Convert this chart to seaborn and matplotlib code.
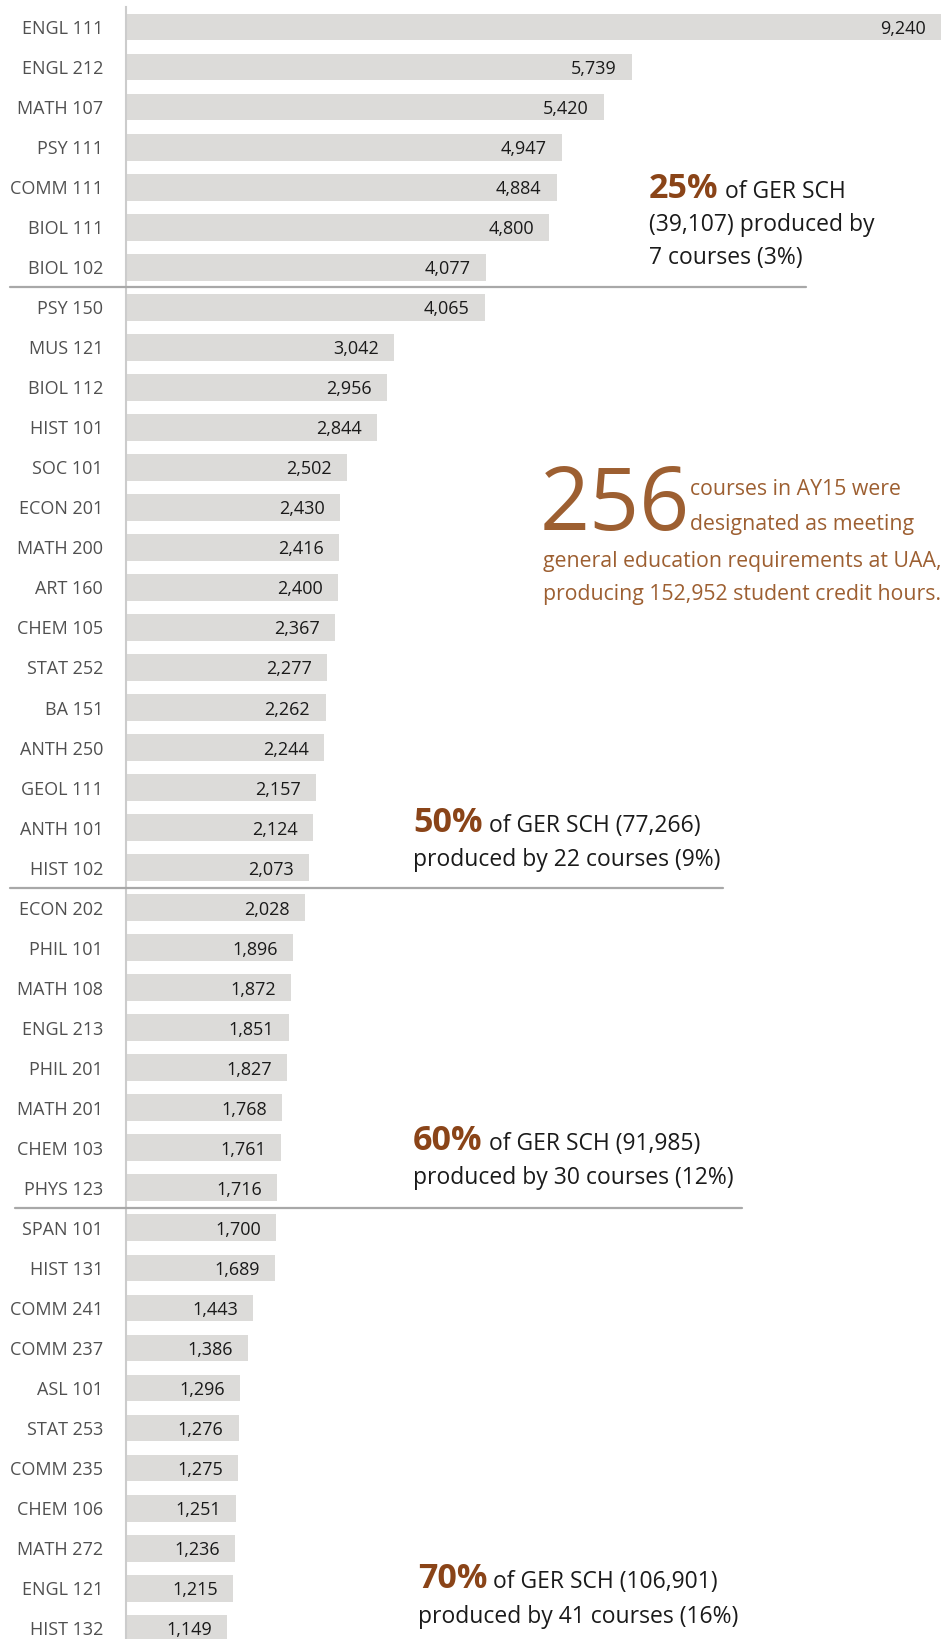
import matplotlib
matplotlib.use("Agg")
import matplotlib.pyplot as plt
import matplotlib.transforms as mtransforms
import seaborn as sns
import pandas as pd

courses = ["ENGL 111", "ENGL 212", "MATH 107", "PSY 111", "COMM 111", "BIOL 111", "BIOL 102",
           "PSY 150", "MUS 121", "BIOL 112", "HIST 101", "SOC 101", "ECON 201", "MATH 200",
           "ART 160", "CHEM 105", "STAT 252", "BA 151", "ANTH 250", "GEOL 111", "ANTH 101",
           "HIST 102", "ECON 202", "PHIL 101", "MATH 108", "ENGL 213", "PHIL 201", "MATH 201",
           "CHEM 103", "PHYS 123", "SPAN 101", "HIST 131", "COMM 241", "COMM 237", "ASL 101",
           "STAT 253", "COMM 235", "CHEM 106", "MATH 272", "ENGL 121", "HIST 132"]
sch = [9240, 5739, 5420, 4947, 4884, 4800, 4077,
       4065, 3042, 2956, 2844, 2502, 2430, 2416,
       2400, 2367, 2277, 2262, 2244, 2157, 2124,
       2073, 2028, 1896, 1872, 1851, 1827, 1768,
       1761, 1716, 1700, 1689, 1443, 1386, 1296,
       1276, 1275, 1251, 1236, 1215, 1149]

# cumulative-share milestones: (number of courses, bold pct, rest of line 1, further lines)
milestone_counts = [7, 22, 30, 41]
milestone_pct = ["25%", "50%", "60%", "70%"]
milestone_line1 = [" of GER SCH", " of GER SCH (77,266)", " of GER SCH (91,985)", " of GER SCH (106,901)"]
milestone_rest = [["(39,107) produced by", "7 courses (3%)"],
                  ["produced by 22 courses (9%)"],
                  ["produced by 30 courses (12%)"],
                  ["produced by 41 courses (16%)"]]

total_courses = "256"
summary_lines = ["courses in AY15 were", "designated as meeting",
                 "general education requirements at UAA,",
                 "producing 152,952 student credit hours."]

W, H = 947, 1639
sns.set_style("white")
plt.rcParams["font.family"] = ["Open Sans", "DejaVu Sans"]

BAR = "#dcdbd9"
BROWN = "#8a4418"
BROWN2 = "#9d5f31"
LABEL = "#505050"

fig = plt.figure(figsize=(W / 100, H / 100), dpi=100)
ax = fig.add_axes([126 / W, 0, (W - 126) / W, 1])

df = pd.DataFrame({"course": courses, "sch": sch})
sns.barplot(data=df, x="sch", y="course", color=BAR, saturation=1, width=0.67,
            linewidth=0, ax=ax)

pitch = 40.03
ax.set_xlim(0, 9308)
ax.set_ylim((H - 27) / pitch, -27 / pitch)
ax.set_xlabel("")
ax.set_ylabel("")
ax.set_xticks([])
for s in ["top", "right", "bottom"]:
    ax.spines[s].set_visible(False)
ax.spines["left"].set_color("#cccccc")
ax.spines["left"].set_linewidth(1.5)
ax.spines["left"].set_bounds((H - 27) / pitch, -0.5)
ax.tick_params(axis="y", length=0, pad=16.5, labelsize=13, labelcolor=LABEL)

for i, v in enumerate(sch):
    ax.annotate(f"{v:,}", xy=(v, i), xytext=(-11, 0), textcoords="offset points",
                ha="right", va="center_baseline", fontsize=13, color="#1a1a1a")

# separator lines
blend = mtransforms.blended_transform_factory(fig.transFigure, ax.transData)
sep_x = [(10, 806), (10, 723), (15, 742)]
for (x0, x1), n in zip(sep_x, milestone_counts[:3]):
    ax.plot([x0 / W, x1 / W], [n - 0.5, n - 0.5], transform=blend, color="#a8a8a8",
            lw=1.6, clip_on=False, zorder=5)

renderer = fig.canvas.get_renderer()

def fx(px):
    return px / W

def fy(py):
    return 1 - py / H

# milestone annotations: (x, baseline y of first line, line spacing)
ann_pos = [(649, 198, 33), (413, 832, 34), (413, 1150, 34), (418, 1588, 35)]
for (x, y, dy), pct, l1, rest in zip(ann_pos, milestone_pct, milestone_line1, milestone_rest):
    t = fig.text(fx(x), fy(y), pct, fontsize=24.5, fontweight="bold", color=BROWN, va="baseline")
    bb = t.get_window_extent(renderer)
    fig.text(bb.x1 / W, fy(y), l1, fontsize=16.5, color="#1a1a1a", va="baseline")
    for k, line in enumerate(rest):
        fig.text(fx(x), fy(y + dy * (k + 1)), line, fontsize=16.5, color="#1a1a1a", va="baseline")

# big summary
fig.text(fx(540), fy(530), total_courses, fontsize=63, color=BROWN2, va="baseline")
summary_pos = [(690, 495), (690, 530), (543, 567), (543, 600)]
for (x, y), line in zip(summary_pos, summary_lines):
    fig.text(fx(x), fy(y), line, fontsize=15.3, color=BROWN2, va="baseline")

fig.savefig("out.png", dpi=100)
